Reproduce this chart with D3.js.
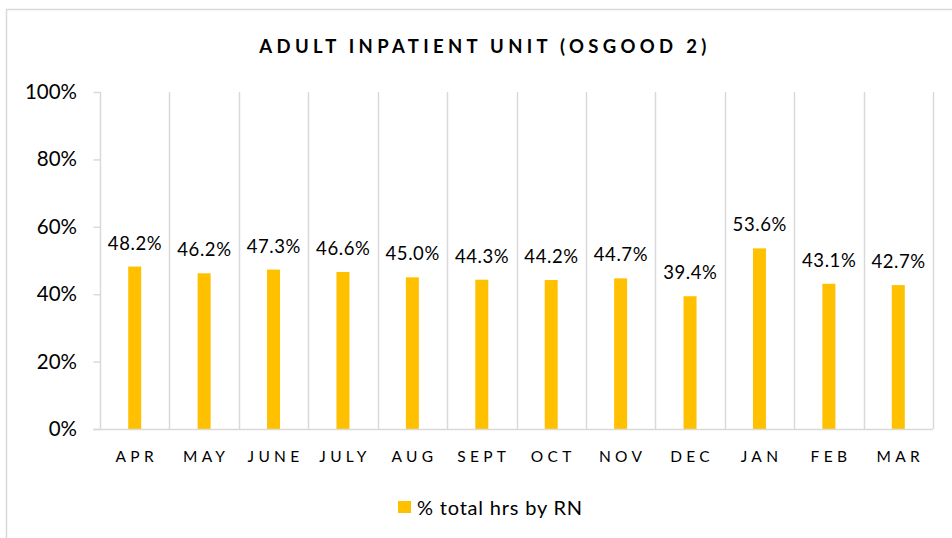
<!DOCTYPE html>
<html>
<head>
<meta charset="utf-8">
<script src="https://cdn.jsdelivr.net/npm/d3@7"></script>
<style>
  html, body { margin: 0; padding: 0; background: #fff; }
  svg { display: block; font-family: Lato, 'Open Sans', sans-serif; }
</style>
</head>
<body>
<div id="chart"></div>
<script>
// chart values
var months = ['APR', 'MAY', 'JUNE', 'JULY', 'AUG', 'SEPT', 'OCT', 'NOV', 'DEC', 'JAN', 'FEB', 'MAR'];
var rnShare = [48.2, 46.2, 47.3, 46.6, 45.0, 44.3, 44.2, 44.7, 39.4, 53.6, 43.1, 42.7];
var yTicks = [0, 20, 40, 60, 80, 100];
var seriesName = '% total hrs by RN';
var title = 'ADULT INPATIENT UNIT (OSGOOD 2)';

var width = 952, height = 538;
var margin = { top: 92, right: 19, bottom: 109, left: 100 };
var gridColor = '#d9d9d9';
var barColor = '#ffc000';

var svg = d3.select('#chart').append('svg')
  .attr('width', width)
  .attr('height', height);

// outer chart border (runs off the right/bottom of the window)
svg.append('rect')
  .attr('x', 6.5).attr('y', 9.5)
  .attr('width', width + 20).attr('height', height + 20)
  .attr('fill', 'none')
  .attr('stroke', gridColor)
  .attr('stroke-width', 1.5);

svg.append('text')
  .attr('x', 485)
  .attr('y', 53)
  .attr('text-anchor', 'middle')
  .style('font-weight', 'bold')
  .style('font-size', '18.5px')
  .style('letter-spacing', '4.3px')
  .style('fill', '#000')
  .text(title);

var x = d3.scaleBand()
  .domain(months)
  .range([margin.left, width - margin.right]);

var y = d3.scaleLinear()
  .domain([0, 100])
  .range([height - margin.bottom, margin.top]);

var g = svg.append('g');

// vertical gridlines at category boundaries
var bounds = months.map(function (m) { return x(m); }).concat([x.range()[1]]);
g.selectAll('line.vgrid')
  .data(bounds)
  .enter().append('line')
  .attr('class', 'vgrid')
  .attr('x1', function (d) { return Math.round(d) + 0.5; })
  .attr('x2', function (d) { return Math.round(d) + 0.5; })
  .attr('y1', y(100))
  .attr('y2', y(0))
  .attr('stroke', gridColor)
  .attr('stroke-width', 1.5);

// y axis
var yAxis = g.append('g')
  .attr('transform', 'translate(' + (margin.left + 0.5) + ',0)')
  .call(d3.axisLeft(y).tickValues(yTicks).tickSize(7).tickPadding(16.5)
    .tickFormat(function (d) { return d + '%'; }));
yAxis.select('.domain').remove();
yAxis.selectAll('.tick line').attr('stroke', gridColor).attr('stroke-width', 1.5);
yAxis.selectAll('.tick text')
  .style('font-size', '20.5px')
  .style('font-family', 'Lato, sans-serif')
  .attr('fill', '#000');

// bars
var barW = 13;
g.selectAll('rect.bar')
  .data(rnShare)
  .enter().append('rect')
  .attr('class', 'bar')
  .attr('x', function (d, i) { return x(months[i]) + x.bandwidth() / 2 - barW / 2; })
  .attr('y', function (d) { return y(d); })
  .attr('width', barW)
  .attr('height', function (d) { return y(0) - y(d); })
  .attr('fill', barColor);

// baseline
g.append('line')
  .attr('x1', margin.left - 7)
  .attr('x2', width - margin.right)
  .attr('y1', y(0) + 0.5)
  .attr('y2', y(0) + 0.5)
  .attr('stroke', gridColor)
  .attr('stroke-width', 1.5);

// data labels
g.selectAll('text.lbl')
  .data(rnShare)
  .enter().append('text')
  .attr('class', 'lbl')
  .attr('x', function (d, i) { return x(months[i]) + x.bandwidth() / 2 + 0.3; })
  .attr('y', function (d) { return y(d) - 17; })
  .attr('text-anchor', 'middle')
  .style('font-size', '18.5px')
  .style('letter-spacing', '0.6px')
  .style('fill', '#000')
  .text(function (d) { return d.toFixed(1) + '%'; });

// x axis labels
var xAxis = g.append('g')
  .attr('transform', 'translate(0,' + y(0) + ')')
  .call(d3.axisBottom(x).tickSize(0).tickPadding(22));
xAxis.select('.domain').remove();
xAxis.selectAll('.tick text')
  .attr('dx', 2)
  .style('font-size', '15.5px')
  .style('font-family', 'Lato, sans-serif')
  .style('letter-spacing', '4.3px')
  .attr('fill', '#000');

// legend
var legend = svg.append('g').attr('transform', 'translate(398,501)');
legend.append('rect')
  .attr('width', 13).attr('height', 12)
  .attr('fill', barColor);
legend.append('text')
  .attr('x', 19)
  .attr('y', 14)
  .style('font-size', '20px')
  .style('letter-spacing', '0.8px')
  .style('fill', '#000')
  .text(seriesName);
</script>
</body>
</html>
